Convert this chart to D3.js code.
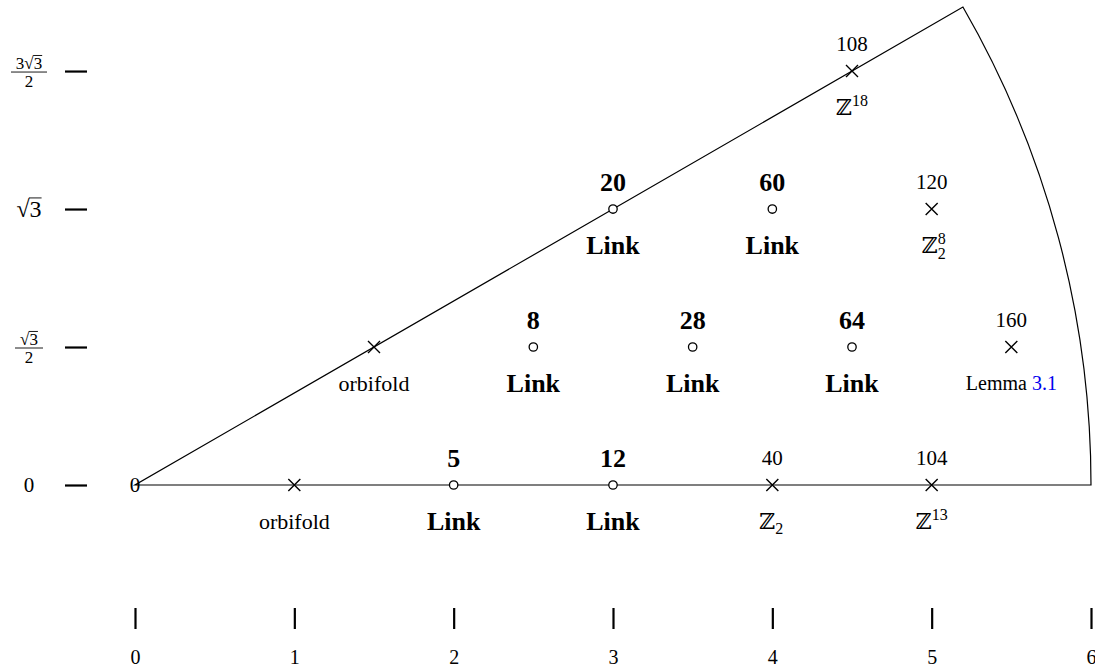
<!DOCTYPE html>
<html>
<head>
<meta charset="utf-8">
<script src="https://cdn.jsdelivr.net/npm/d3@7"></script>
<style>
  html, body { margin: 0; padding: 0; background: #fff; }
  svg { display: block; }
  text { font-family: "Liberation Serif", "DejaVu Serif", serif; fill: #000; }
</style>
</head>
<body>
<svg id="chart" width="1095" height="672"></svg>
<script>
// Lattice positions: x in units, row index k gives height k * sqrt(3)/2
const S = Math.sqrt(3);
const xTicks = [0, 1, 2, 3, 4, 5, 6];
const yTickValues = [0, S / 2, S, 3 * S / 2];
const yTickNames = ["0", "√3/2", "√3", "3√3/2"];

const pointX   = [1, 2, 3, 4, 5, 1.5, 2.5, 3.5, 4.5, 5.5, 3, 4, 5, 4.5];
const pointRow = [0, 0, 0, 0, 0, 1,   1,   1,   1,   1,   2, 2, 2, 3];
const pointKind = ["cross", "circle", "circle", "cross", "cross",
                   "cross", "circle", "circle", "circle", "cross",
                   "circle", "circle", "cross", "cross"];
const topLabels = ["", "5", "12", "40", "104",
                   "", "8", "28", "64", "160",
                   "20", "60", "120", "108"];
const bottomLabels = ["orbifold", "Link", "Link", "Z_2", "Z^13",
                      "orbifold", "Link", "Link", "Link", "Lemma 3.1",
                      "Link", "Link", "Z_2^8", "Z^18"];
const sectorRadius = 6;
const sectorAngle = 30; // degrees

const svg = d3.select("#chart");
const unit = (1091 - 135) / 6;
const x = d3.scaleLinear().domain([0, 6]).range([135, 1091]);
const y = d3.scaleLinear().domain([0, 3]).range([485, 485 - 3 * unit]);

// Sector boundary
const p = d3.path();
p.moveTo(x(0), y(0));
p.lineTo(x(sectorRadius), y(0));
p.arc(x(0), y(0), x(sectorRadius) - x(0), 0, -sectorAngle * Math.PI / 180, true);
p.closePath();
svg.append("path").attr("d", p.toString())
  .attr("fill", "none").attr("stroke", "#000").attr("stroke-width", 1.2);

// Origin label
svg.append("text").attr("x", x(0)).attr("y", y(0)).attr("dy", "0.35em")
  .attr("text-anchor", "middle").attr("font-size", 21).text("0");

// Bottom axis: detached ticks
const xAxis = d3.axisBottom(x).tickValues(xTicks).tickSize(21).tickPadding(21)
  .tickFormat(d3.format("d"));
const gx = svg.append("g").attr("transform", "translate(0,608)").call(xAxis);
gx.select(".domain").remove();
gx.selectAll(".tick line").attr("stroke", "#000").attr("stroke-width", 2.2);
gx.selectAll(".tick text").attr("font-size", 20)
  .attr("font-family", "Liberation Serif, serif").attr("fill", "#000");

// Left axis: detached ticks, labels drawn separately
const yAxis = d3.axisLeft(y).tickValues(yTickValues).tickSize(22).tickFormat("");
const gy = svg.append("g").attr("transform", "translate(87,0)").call(yAxis);
gy.select(".domain").remove();
gy.selectAll(".tick line").attr("stroke", "#000").attr("stroke-width", 2.2);

// Radical helper: draws "√3" with the vinculum over the radicand
function radical(g, cx, cy, size, prefix) {
  const t = g.append("text").attr("x", cx).attr("y", cy).attr("dy", "0.35em")
    .attr("text-anchor", "middle").attr("font-size", size)
    .text(prefix + "√3");
  const n = t.text().length;
  const bb = t.node().getBBox();
  const start = t.node().getStartPositionOfChar(n - 1).x;
  const end = t.node().getEndPositionOfChar(n - 1).x;
  g.append("line").attr("x1", start - 0.5).attr("x2", end)
    .attr("y1", bb.y + 1.5).attr("y2", bb.y + 1.5)
    .attr("stroke", "#000").attr("stroke-width", 0.9);
}

const lblX = 29;
yTickNames.forEach((name, i) => {
  const cy = y(yTickValues[i]);
  const g = svg.append("g");
  if (name === "0") {
    g.append("text").attr("x", lblX).attr("y", cy).attr("dy", "0.35em")
      .attr("text-anchor", "middle").attr("font-size", 21).text("0");
  } else if (name === "√3") {
    radical(g, lblX, cy, 24, "");
  } else {
    const num = name.split("/")[0];
    const pre = num.replace("√3", "");
    radical(g, lblX, cy - 8, 17, pre);
    const w = pre ? 36 : 28;
    g.append("line").attr("x1", lblX - w / 2).attr("x2", lblX + w / 2)
      .attr("y1", cy + 1).attr("y2", cy + 1)
      .attr("stroke", "#000").attr("stroke-width", 0.9);
    g.append("text").attr("x", lblX).attr("y", cy + 10).attr("dy", "0.35em")
      .attr("text-anchor", "middle").attr("font-size", 17).text("2");
  }
});

// Points
const pts = pointX.map((px, i) => ({
  px, py: pointRow[i] * S / 2, kind: pointKind[i],
  top: topLabels[i], bottom: bottomLabels[i]
}));

const cs = 6;
pts.forEach(d => {
  const cx = x(d.px), cy = y(d.py);
  if (d.kind === "cross") {
    svg.append("path")
      .attr("d", `M${cx - cs},${cy - cs}L${cx + cs},${cy + cs}M${cx - cs},${cy + cs}L${cx + cs},${cy - cs}`)
      .attr("stroke", "#000").attr("stroke-width", 1.4).attr("fill", "none");
  } else {
    svg.append("circle").attr("cx", cx).attr("cy", cy).attr("r", 4.2)
      .attr("fill", "#fff").attr("stroke", "#000").attr("stroke-width", 1.3);
  }
  const bold = d.kind === "circle";
  if (d.top) {
    svg.append("text").attr("x", cx).attr("y", cy - 27).attr("dy", "0.35em")
      .attr("text-anchor", "middle")
      .attr("font-size", bold ? 26 : 21)
      .attr("font-weight", bold ? "bold" : "normal")
      .text(d.top);
  }
  const t = svg.append("text").attr("x", cx).attr("y", cy + 36).attr("dy", "0.35em")
    .attr("text-anchor", "middle");
  if (d.bottom === "Link") {
    t.attr("font-size", 26).attr("font-weight", "bold").text("Link");
  } else if (d.bottom.startsWith("Lemma")) {
    t.attr("font-size", 20);
    t.append("tspan").text("Lemma ");
    t.append("tspan").attr("fill", "#0000ee").style("fill", "#0000ee").text("3.1");
  } else if (d.bottom.startsWith("Z")) {
    t.attr("font-size", 22);
    t.append("tspan").attr("font-family", "DejaVu Serif, serif").text("ℤ");
    const sub = d.bottom.match(/_(\w+)/);
    const sup = d.bottom.match(/\^(\w+)/);
    if (sub && sup) {
      // superscript and subscript stacked after the letter
      t.attr("text-anchor", "start").attr("x", cx - 10);
      t.append("tspan").attr("font-size", 16).attr("dy", -9).text(sup[1]);
      const base = t.node().getEndPositionOfChar(0).x;
      t.append("tspan").attr("font-size", 16).attr("x", base).attr("dy", 15).text(sub[1]);
    } else if (sub) {
      t.attr("x", cx - 1);
      t.append("tspan").attr("font-size", 16).attr("dy", 5).text(sub[1]);
    } else if (sup) {
      t.attr("x", cx);
      t.append("tspan").attr("font-size", 16).attr("dy", -9).text(sup[1]);
    }
  } else {
    t.attr("font-size", 22).text(d.bottom);
  }
});
</script>
</body>
</html>
